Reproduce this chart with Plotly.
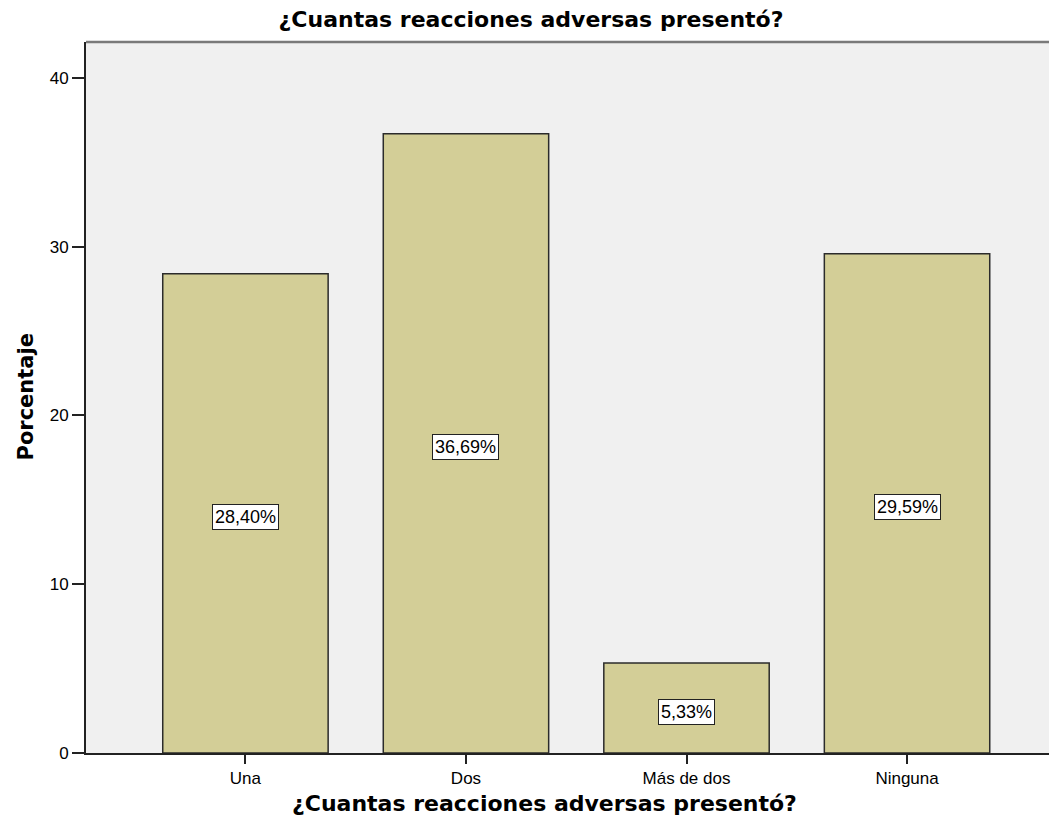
import plotly.graph_objects as go

categories = ["Una", "Dos", "Más de dos", "Ninguna"]
percentages = [28.40, 36.69, 5.33, 29.59]
value_labels = ["28,40%", "36,69%", "5,33%", "29,59%"]
y_ticks = [0, 10, 20, 30, 40]

title_text = "¿Cuantas reacciones adversas presentó?"
x_title = "¿Cuantas reacciones adversas presentó?"
y_title = "Porcentaje"

FONT = "Liberation Sans, Arial, sans-serif"
BOLD_FONT = "DejaVu Sans, Verdana, sans-serif"

fig = go.Figure()
fig.add_trace(go.Bar(
    x=categories,
    y=percentages,
    width=0.75,
    marker=dict(color="#D3CE97", line=dict(color="#2b2b2b", width=1.5)),
    hoverinfo="skip",
))

for c, v, lab in zip(categories, percentages, value_labels):
    fig.add_annotation(
        x=c, y=v / 2, yshift=-4, text=lab, showarrow=False,
        font=dict(family=FONT, size=18, color="black"),
        bgcolor="white", bordercolor="#222", borderwidth=1, borderpad=2,
    )

# axis titles as annotations for precise placement
fig.add_annotation(
    xref="paper", yref="paper", x=0.4717, y=0, yshift=-50,
    xanchor="center", yanchor="middle", showarrow=False,
    text="<b>" + x_title + "</b>",
    font=dict(family=BOLD_FONT, size=22, color="black"),
)
fig.add_annotation(
    xref="paper", yref="paper", x=0, y=0.5, xshift=-61,
    xanchor="center", yanchor="middle", showarrow=False, textangle=-90,
    text="<b>" + y_title + "</b>",
    font=dict(family=BOLD_FONT, size=21, color="black"),
)

fig.update_layout(
    width=1049, height=826,
    margin=dict(l=78, r=0, t=34, b=81),
    paper_bgcolor="white",
    plot_bgcolor="#F0F0F0",
    showlegend=False,
    bargap=0.25,
    title=dict(text="<b>" + title_text + "</b>", x=0.4986, xref="container", xanchor="center",
               y=1 - 11 / 826, yref="container", yanchor="middle",
               font=dict(family=BOLD_FONT, size=22, color="black")),
    font=dict(family=FONT, size=17, color="black"),
)

fig.update_xaxes(
    type="category",
    range=[-0.723, 3.68],
    showline=True, linecolor="#222", linewidth=2,
    ticks="outside", ticklen=9, tickcolor="#222", tickwidth=1.5,
    tickfont=dict(family=FONT, size=17, color="black"),
    showgrid=False, zeroline=False,
)
fig.update_yaxes(
    range=[0, 42.13],
    tickvals=y_ticks,
    showline=True, linecolor="#222", linewidth=2,
    ticks="outside", ticklen=12, tickcolor="#222", tickwidth=1.5,
    tickfont=dict(family=FONT, size=17, color="black"),
    showgrid=False, zeroline=False,
)

fig.add_shape(type="line", xref="paper", yref="paper", x0=0, x1=1, y0=1, y1=1,
              line=dict(color="#7a7a7a", width=2.5))

fig.write_html("out.html")
